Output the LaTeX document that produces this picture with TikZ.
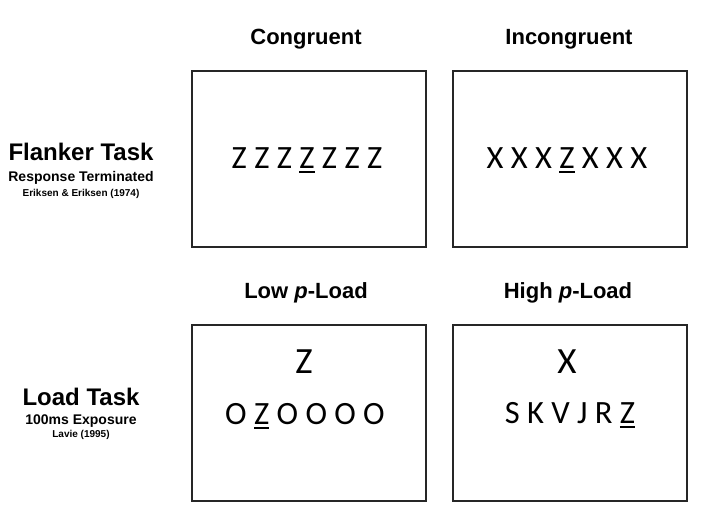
\documentclass[tikz,border=0pt]{standalone}
\usepackage{fontspec}
\setmainfont{Liberation Sans}
\newfontfamily\stimfont{Carlito}
\newcommand{\tgt}[1]{\setbox0\hbox{#1}\rlap{\rule[-5pt]{\wd0}{1.8pt}}\box0\relax}

\begin{document}
\begin{tikzpicture}[x=1pt, y=-1pt,
  panel/.style={draw=black!85, line width=1.3pt, minimum width=234pt, minimum height=176pt},
  head/.style={font=\fontsize{22}{24}\selectfont\bfseries, anchor=base},
  stim/.style={font=\stimfont\fontsize{32.5}{34}\selectfont, anchor=base},
  cue/.style={font=\stimfont\fontsize{37}{39}\selectfont, anchor=base}]
  \useasboundingbox (0,0) rectangle (701,514);

  % 1. headings
  \node[head] (congr) at (306,44) {Congruent};
  \node[head] (incongr) at (569,44) {Incongruent};
  \node[head] (low) at (306,298) {Low \textit{p}-Load};
  \node[head] (high) at (568,298) {High \textit{p}-Load};

  % 2. row labels
  \node[anchor=base, font=\fontsize{24}{26}\selectfont\bfseries] (flanker) at (81,160) {Flanker Task};
  \node[anchor=base, font=\fontsize{14}{16}\selectfont\bfseries] (flankersub) at (81,181) {Response Terminated};
  \node[anchor=base, font=\fontsize{10}{12}\selectfont\bfseries] (flankerref) at (81,196) {Eriksen \& Eriksen (1974)};
  \node[anchor=base, font=\fontsize{24}{26}\selectfont\bfseries] (load) at (81,405) {Load Task};
  \node[anchor=base, font=\fontsize{14}{16}\selectfont\bfseries] (loadsub) at (81,424) {100ms Exposure};
  \node[anchor=base, font=\fontsize{10}{12}\selectfont\bfseries] (loadref) at (81,437) {Lavie (1995)};

  % 3. panels
  \foreach \name/\x/\y in {pcongr/309/159, pincongr/570/159, plow/309/413, phigh/570/413} {
    \node[panel] (\name) at (\x,\y) {};
  }

  % 4. stimuli
  \node[stim] (zrow) at (307,168) {Z Z Z \tgt{Z} Z Z Z};
  \node[stim] (xrow) at (567,168) {X X X \tgt{Z} X X X};
  \node[cue] (zcue) at (304,373) {Z};
  \node[stim] (orow) at (305,424) {O \tgt{Z} O O O O};
  \node[cue] (xcue) at (567,373) {X};
  \node[stim] (lrow) at (570,423) {S K V J R \tgt{Z}};
\end{tikzpicture}
\end{document}
